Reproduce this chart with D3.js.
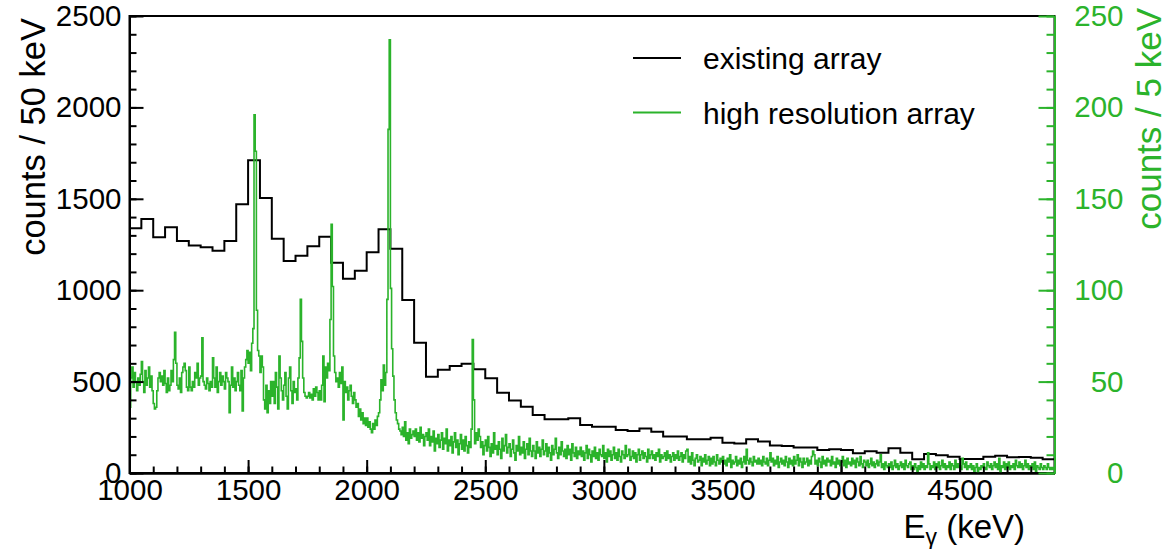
<html>

<head>
  <script src="https://d3js.org/d3.v7.min.js"></script>
  <style>
    body {
      margin: 0;
      background: white;
    }

    text {
      font-family: "Liberation Sans", Arial, Helvetica, sans-serif;
    }
  </style>
</head>

<body>
  <svg id="chart" width="1167" height="549"></svg>
  <script>
    // existing array, counts per 50 keV bin, bins start at 1000 keV
    const existingCounts = [
      1339, 1389, 1289, 1344, 1269, 1244, 1235, 1216, 1269, 1470,
      1711, 1504, 1282, 1160, 1189, 1240, 1293, 1150, 1062, 1107,
      1207, 1333, 1227, 947, 713, 527, 565, 585, 598, 567,
      518, 439, 396, 363, 317, 294, 294, 299, 263, 253,
      253, 235, 230, 244, 226, 199, 199, 184, 185, 193,
      166, 162, 184, 173, 151, 148, 139, 139, 126, 130,
      126, 108, 119, 111, 135, 111, 75, 104, 97, 89,
      77, 77, 89, 95, 86, 88, 84, 75
    ];

    // high resolution array, counts per 5 keV bin, one row = 50 keV from 1000 keV
    const hiresCounts = [
      36, 52, 58, 47, 55, 50, 45, 52, 48, 54,
      61, 50, 44, 56, 48, 52, 58, 47, 53, 45,
      38, 35, 36, 45, 52, 55, 50, 53, 48, 56,
      49, 44, 52, 45, 48, 56, 50, 62, 77, 60,
      48, 46, 52, 44, 55, 58, 60, 56, 47, 45,
      58, 47, 45, 50, 47, 55, 52, 60, 48, 52,
      53, 74, 50, 48, 46, 52, 49, 45, 50, 47,
      63, 52, 47, 58, 44, 50, 55, 48, 53, 50,
      46, 55, 52, 50, 33, 48, 58, 47, 52, 45,
      50, 55, 48, 45, 56, 34, 52, 58, 62, 67,
      60, 66, 56, 71, 79, 196, 176, 89, 67, 64,
      55, 64, 58, 40, 35, 48, 33, 45, 38, 50,
      42, 50, 38, 55, 47, 35, 64, 52, 45, 40,
      48, 55, 42, 35, 52, 58, 45, 38, 50, 44,
      46, 40, 52, 63, 95, 72, 52, 44, 42, 41,
      42, 44, 41, 43, 40, 46, 42, 47, 44, 40,
      45, 40, 48, 64, 39, 58, 52, 60, 56, 84,
      136, 102, 64, 55, 50, 52, 47, 55, 49, 58,
      29, 50, 44, 47, 40, 45, 48, 42, 38, 44,
      40, 36, 38, 31, 35, 29, 33, 27, 30, 26,
      30, 25, 28, 24, 22, 27, 24, 29, 26, 31,
      33, 40, 51, 45, 59, 48, 55, 95, 188, 237,
      101, 68, 53, 40, 33, 29, 27, 24, 23, 21,
      25, 20, 28, 18, 22, 16, 24, 19, 21, 23,
      20, 24, 18, 22, 17, 25, 19, 21, 15, 20,
      22, 18, 24, 15, 20, 17, 23, 12, 19, 16,
      21, 14, 18, 22, 13, 19, 16, 24, 12, 18,
      15, 20, 11, 17, 22, 14, 18, 10, 16, 21,
      13, 18, 12, 20, 15, 11, 17, 14, 24, 73,
      40, 16, 22, 18, 24, 20, 14, 17, 10, 15,
      18, 12, 20, 14, 9, 16, 11, 22, 13, 15,
      10, 17, 13, 8, 19, 12, 15, 21, 11, 14,
      16, 9, 13, 18, 11, 7, 15, 12, 20, 10,
      14, 11, 17, 8, 13, 16, 10, 19, 12, 9,
      15, 12, 8, 17, 11, 14, 9, 13, 18, 10,
      12, 16, 9, 14, 11, 7, 15, 10, 13, 19,
      11, 8, 14, 10, 17, 12, 9, 13, 8, 15,
      10, 13, 7, 16, 11, 9, 14, 8, 12, 10,
      14, 9, 12, 7, 11, 15, 8, 13, 10, 6,
      12, 9, 14, 8, 11, 7, 13, 10, 9, 15,
      8, 11, 6, 13, 9, 12, 7, 10, 14, 8,
      11, 7, 13, 9, 6, 12, 10, 8, 15, 9,
      10, 13, 7, 9, 12, 8, 11, 6, 10, 13,
      7, 10, 12, 8, 11, 9, 6, 13, 8, 10,
      12, 8, 10, 7, 11, 9, 13, 6, 10, 8,
      9, 11, 7, 12, 8, 10, 6, 9, 11, 7,
      10, 8, 12, 7, 9, 11, 6, 10, 8, 12,
      13, 6, 9, 5, 11, 7, 4, 8, 10, 6,
      7, 9, 4, 8, 6, 10, 5, 7, 9, 4,
      8, 5, 9, 6, 4, 10, 7, 5, 8, 6,
      9, 5, 7, 4, 8, 6, 10, 3, 7, 5,
      6, 9, 4, 7, 5, 8, 3, 6, 9, 5,
      13, 7, 5, 8, 6, 4, 9, 6, 7, 5,
      8, 5, 7, 4, 9, 6, 5, 8, 4, 7,
      11, 6, 8, 4, 7, 5, 9, 3, 6, 8,
      5, 7, 4, 9, 6, 3, 8, 5, 7, 4,
      9, 5, 7, 10, 4, 8, 6, 3, 8, 5,
      6, 8, 4, 7, 5, 9, 12, 10, 5, 7,
      4, 8, 6, 3, 9, 5, 7, 4, 8, 6,
      7, 4, 9, 5, 6, 3, 8, 5, 7, 4,
      6, 9, 4, 7, 3, 8, 5, 6, 4, 8,
      5, 7, 3, 8, 6, 4, 9, 5, 3, 7,
      6, 4, 7, 3, 5, 8, 4, 6, 3, 5,
      7, 4, 6, 10, 3, 5, 2, 6, 4, 3,
      5, 3, 6, 2, 4, 7, 3, 5, 2, 4,
      6, 3, 5, 2, 7, 4, 3, 5, 6, 2,
      4, 2, 5, 3, 1, 4, 2, 6, 3, 5,
      2, 4, 3, 11, 5, 2, 4, 3, 6, 2,
      5, 3, 6, 2, 4, 7, 3, 5, 2, 4,
      3, 6, 2, 5, 4, 2, 7, 3, 5, 3,
      4, 2, 8, 5, 3, 6, 2, 4, 3, 5,
      2, 4, 1, 3, 5, 0, 3, 2, 4, 3,
      5, 3, 2, 6, 4, 3, 5, 2, 4, 6,
      3, 5, 2, 8, 0, 4, 3, 6, 2, 5,
      3, 6, 2, 4, 3, 5, 2, 7, 4, 3,
      6, 3, 5, 2, 4, 7, 3, 5, 2, 4,
      3, 5, 2, 6, 1, 4, 3, 2, 5, 3,
      2, 4, 3, 2, 5, 3, 2, 3, 2, 3
    ];

    const energyRange = [1000, 4900];
    const existingBinWidth = 50;
    const hiresBinWidth = 5;
    const xTicks = [1000, 1500, 2000, 2500, 3000, 3500, 4000, 4500];
    const leftTicks = [0, 500, 1000, 1500, 2000, 2500];
    const rightTicks = [0, 50, 100, 150, 200, 250];
    const legendLabels = ["existing array", "high resolution array"];

    const green = "#2bb32b";
    const fontSize = 29.5;

    const svg = d3.select("svg#chart");
    const plotL = 129.5, plotR = 1054.5, plotT = 16, plotB = 473;

    const x = d3.scaleLinear().domain(energyRange).range([plotL, plotR]);
    const yLeft = d3.scaleLinear().domain([0, 2500]).range([plotB, plotT]);
    const yRight = d3.scaleLinear().domain([0, 250]).range([plotB, plotT]);

    // step lines, last bin closed at its upper edge
    function histPoints(counts, start, width) {
      let pts = counts.map((c, i) => [start + i * width, c]);
      pts.push([start + counts.length * width, counts[counts.length - 1]]);
      return pts;
    }

    const stepLine = (yScale) => d3.line()
      .x(d => x(d[0]))
      .y(d => yScale(d[1]))
      .curve(d3.curveStepAfter);

    // frame
    svg.append("rect")
      .attr("x", plotL).attr("y", plotT)
      .attr("width", plotR - plotL).attr("height", plotB - plotT)
      .style("fill", "none").style("stroke", "black").style("stroke-width", 2);

    svg.append("path")
      .datum(histPoints(existingCounts, energyRange[0], existingBinWidth))
      .attr("d", stepLine(yLeft))
      .style("fill", "none").style("stroke", "black").style("stroke-width", 2);

    svg.append("path")
      .datum(histPoints(hiresCounts, energyRange[0], hiresBinWidth))
      .attr("d", stepLine(yRight))
      .style("fill", "none").style("stroke", green).style("stroke-width", 1.6);

    // x axis
    const xMinor = d3.range(1000, 4900, 100);
    svg.append("g")
      .attr("transform", `translate(0,${plotB})`)
      .call(d3.axisBottom(x).tickValues(xMinor).tickSize(-6.5).tickSizeOuter(0).tickFormat(""));
    svg.append("g")
      .attr("class", "xaxis")
      .attr("transform", `translate(0,${plotB})`)
      .call(d3.axisBottom(x).tickValues(xTicks).tickSize(-13).tickSizeOuter(0).tickPadding(6).tickFormat(d3.format("d")));

    // left axis
    const leftMinor = d3.range(0, 2501, 100);
    svg.append("g")
      .attr("transform", `translate(${plotL},0)`)
      .call(d3.axisLeft(yLeft).tickValues(leftMinor).tickSize(-7).tickSizeOuter(0).tickFormat(""));
    svg.append("g")
      .attr("class", "yleft")
      .attr("transform", `translate(${plotL},0)`)
      .call(d3.axisLeft(yLeft).tickValues(leftTicks).tickSize(-14).tickSizeOuter(0).tickPadding(8).tickFormat(d3.format("d")));

    // right axis (green)
    const rightMinor = d3.range(0, 251, 10);
    svg.append("g")
      .attr("class", "yright")
      .attr("transform", `translate(${plotR},0)`)
      .call(d3.axisRight(yRight).tickValues(rightMinor).tickSize(-8).tickSizeOuter(0).tickFormat(""));
    svg.append("g")
      .attr("class", "yright")
      .attr("transform", `translate(${plotR},0)`)
      .call(d3.axisRight(yRight).tickValues(rightTicks).tickSize(-16).tickSizeOuter(0).tickFormat(d3.format("d")));

    svg.selectAll("g .domain").style("stroke-width", 2);
    svg.selectAll("g .tick line").style("stroke-width", 2);
    svg.selectAll("g text").style("font-size", fontSize + "px").style("font-family", "'Liberation Sans', Arial, sans-serif");
    svg.selectAll("g.yright .domain, g.yright .tick line").style("stroke", green);
    svg.selectAll("g.yright text")
      .style("fill", green)
      .attr("text-anchor", "end")
      .attr("x", 69);

    // axis titles
    svg.append("text")
      .attr("transform", "translate(45,18) rotate(-90)")
      .attr("text-anchor", "end")
      .style("font-size", "34.5px")
      .text("counts / 50 keV");

    svg.append("text")
      .attr("transform", "translate(1161,8) rotate(-90)")
      .attr("text-anchor", "end")
      .style("font-size", "35px")
      .style("fill", green)
      .text("counts / 5 keV");

    let xTitle = svg.append("text")
      .attr("x", 1025).attr("y", 538)
      .attr("text-anchor", "end")
      .style("font-size", "33px");
    xTitle.append("tspan").text("E");
    xTitle.append("tspan").attr("dy", 7).style("font-size", "23px").text("γ");
    xTitle.append("tspan").attr("dy", -7).text(" (keV)");

    // legend
    const legendColors = ["black", green];
    legendLabels.forEach((lab, i) => {
      const ly = 58 + i * 54.5;
      svg.append("line")
        .attr("x1", 633).attr("x2", 681)
        .attr("y1", ly).attr("y2", ly)
        .style("stroke", legendColors[i]).style("stroke-width", 2);
      svg.append("text")
        .attr("x", 703).attr("y", ly + 11)
        .style("font-size", "30px")
        .text(lab);
    });
  </script>
</body>

</html>
